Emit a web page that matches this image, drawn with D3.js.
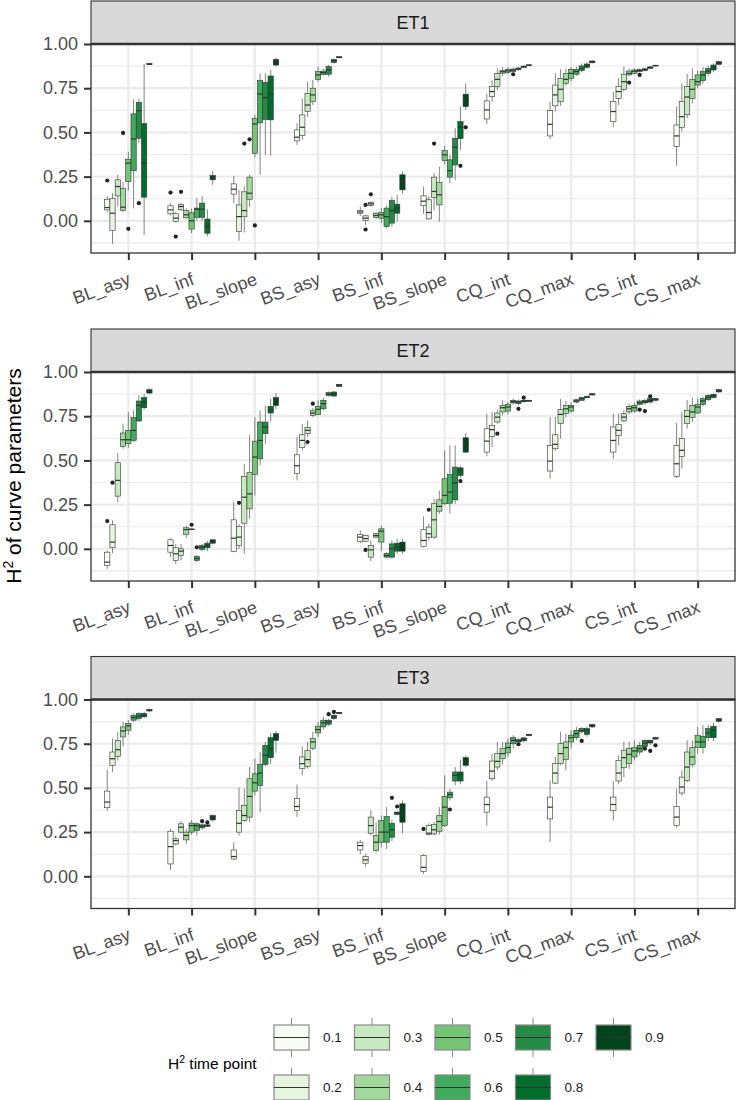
<!DOCTYPE html>
<html>
<head>
<meta charset="utf-8">
<script src="https://cdn.jsdelivr.net/npm/d3@7"></script>
<style>
  body { margin: 0; background: #fff; }
  svg { display: block; font-family: "Liberation Sans", Arial, Helvetica, sans-serif; }
</style>
</head>
<body>
<div id="chart"></div>
<script>
var categories = ["BL_asy", "BL_inf", "BL_slope", "BS_asy", "BS_inf", "BS_slope", "CQ_int", "CQ_max", "CS_int", "CS_max"];
var timePoints = ["0.1", "0.2", "0.3", "0.4", "0.5", "0.6", "0.7", "0.8", "0.9"];
var facets = ["ET1", "ET2", "ET3"];
var yTicks = [0, 0.25, 0.5, 0.75, 1];
var yMinor = [-0.125, 0.125, 0.375, 0.625, 0.875];

// one row per category, one box per time point: [lower whisker, q1, median, q3, upper whisker]
var et1Boxes = [
  [[0.05,0.062,0.075,0.122,0.14],[-0.13,-0.055,0.043,0.126,0.156],[0.08,0.141,0.194,0.232,0.26],[0.05,0.058,0.077,0.183,0.22],[0.17,0.222,0.326,0.348,0.39],[0.07,0.283,0.463,0.605,0.687],[0.44,0.467,0.623,0.67,0.69],[-0.08,0.134,0.326,0.55,0.887],[0.882,0.883,0.886,0.89,0.892]],
  [[0.03,0.04,0.062,0.085,0.10],[-0.01,-0.004,0.015,0.04,0.05],[0.055,0.062,0.081,0.094,0.10],[0.01,0.017,0.034,0.058,0.07],[-0.07,-0.047,0.0,0.045,0.07],[0.0,0.02,0.066,0.072,0.128],[0.0,0.02,0.066,0.10,0.14],[-0.088,-0.07,-0.032,0.01,0.066],[0.204,0.232,0.245,0.256,0.282]],
  [[0.10,0.151,0.179,0.209,0.254],[-0.113,-0.06,0.024,0.09,0.175],[-0.066,0.023,0.058,0.164,0.194],[0.08,0.122,0.156,0.247,0.26],[0.36,0.382,0.548,0.578,0.60],[0.26,0.554,0.718,0.793,0.834],[0.373,0.574,0.697,0.783,0.834],[0.368,0.571,0.718,0.819,0.853],[0.873,0.881,0.9,0.913,0.924]],
  [[0.429,0.452,0.473,0.514,0.552],[0.458,0.482,0.529,0.599,0.693],[0.589,0.618,0.655,0.721,0.787],[0.655,0.674,0.712,0.75,0.797],[0.787,0.80,0.825,0.844,0.872],[0.82,0.829,0.838,0.847,0.86],[0.815,0.829,0.853,0.872,0.881],[0.89,0.896,0.904,0.913,0.918],[0.92,0.922,0.925,0.928,0.93]],
  [[0.028,0.043,0.05,0.058,0.081],[-0.023,0.002,0.015,0.028,0.035],[0.08,0.087,0.096,0.105,0.11],[0.01,0.02,0.03,0.043,0.05],[-0.013,0.015,0.034,0.047,0.072],[-0.043,-0.032,0.024,0.072,0.087],[-0.032,-0.013,0.058,0.115,0.137],[-0.004,0.043,0.072,0.094,0.147],[0.153,0.175,0.232,0.26,0.279]],
  [[0.04,0.085,0.111,0.141,0.194],[0.006,0.011,0.047,0.119,0.138],[0.06,0.132,0.166,0.247,0.27],[-0.004,0.09,0.147,0.218,0.307],[0.32,0.341,0.373,0.397,0.424],[0.213,0.247,0.284,0.345,0.373],[0.23,0.316,0.416,0.467,0.523],[0.40,0.465,0.529,0.561,0.646],[0.627,0.646,0.684,0.716,0.777]],
  [[0.546,0.576,0.627,0.678,0.72],[0.674,0.702,0.731,0.759,0.795],[0.739,0.759,0.80,0.834,0.862],[0.82,0.835,0.843,0.85,0.87],[0.83,0.84,0.848,0.856,0.87],[0.838,0.845,0.852,0.858,0.868],[0.848,0.855,0.86,0.864,0.872],[0.864,0.868,0.872,0.875,0.879],[0.875,0.878,0.88,0.882,0.884]],
  [[0.463,0.48,0.546,0.623,0.674],[0.618,0.65,0.712,0.768,0.834],[0.65,0.674,0.744,0.806,0.857],[0.765,0.778,0.80,0.834,0.86],[0.79,0.806,0.834,0.857,0.87],[0.82,0.829,0.844,0.857,0.872],[0.84,0.849,0.862,0.876,0.89],[0.86,0.868,0.879,0.887,0.896],[0.89,0.894,0.898,0.904,0.908]],
  [[0.531,0.561,0.618,0.674,0.731],[0.655,0.693,0.731,0.759,0.806],[0.731,0.744,0.787,0.829,0.872],[0.82,0.825,0.834,0.847,0.86],[0.828,0.834,0.846,0.853,0.862],[0.84,0.845,0.85,0.855,0.862],[0.845,0.85,0.855,0.86,0.866],[0.858,0.862,0.868,0.87,0.874],[0.873,0.876,0.878,0.88,0.882]],
  [[0.311,0.42,0.48,0.542,0.646],[0.506,0.529,0.589,0.674,0.777],[0.58,0.60,0.70,0.76,0.83],[0.665,0.693,0.744,0.80,0.862],[0.75,0.768,0.787,0.825,0.85],[0.775,0.793,0.825,0.844,0.87],[0.82,0.834,0.847,0.862,0.878],[0.84,0.853,0.866,0.881,0.89],[0.88,0.885,0.894,0.90,0.905]]
];
// [category index, time point index, value]
var et1Outliers = [[0,0,0.228],[0,3,0.497],[0,4,-0.045],[0,6,0.10],[1,0,0.16],[1,1,-0.089],[1,2,0.164],[2,2,0.437],[2,3,0.461],[2,4,-0.026],[4,1,0.09],[4,1,-0.049],[4,2,0.15],[5,2,0.437],[5,7,0.311],[5,8,0.529],[6,5,0.829],[8,3,0.782],[8,5,0.825]];

var et2Boxes = [
  [[-0.113,-0.094,-0.075,-0.019,-0.009],[-0.025,0.006,0.038,0.136,0.160],[0.264,0.298,0.387,0.487,0.542],[0.566,0.579,0.617,0.655,0.708],[0.57,0.594,0.617,0.67,0.774],[0.604,0.613,0.67,0.742,0.783],[0.717,0.723,0.811,0.836,0.868],[0.787,0.798,0.83,0.855,0.877],[0.875,0.881,0.89,0.90,0.908]],
  [[-0.047,-0.019,0.019,0.051,0.06],[-0.085,-0.066,-0.028,0.006,0.028],[-0.066,-0.038,-0.013,0.0,0.028],[0.062,0.081,0.109,0.119,0.132],[0.106,0.108,0.11,0.112,0.115],[-0.075,-0.066,-0.055,-0.043,-0.035],[-0.013,-0.004,0.009,0.019,0.028],[-0.013,0.006,0.021,0.032,0.045],[0.025,0.032,0.041,0.051,0.055]],
  [[-0.019,-0.015,0.06,0.164,0.264],[0.0,0.019,0.066,0.126,0.14],[-0.028,0.145,0.292,0.409,0.481],[0.170,0.226,0.311,0.432,0.642],[0.302,0.421,0.519,0.609,0.745],[0.472,0.509,0.613,0.717,0.783],[0.594,0.651,0.689,0.717,0.811],[0.72,0.768,0.787,0.806,0.849],[0.79,0.811,0.843,0.855,0.881]],
  [[0.387,0.425,0.47,0.532,0.634],[0.557,0.572,0.613,0.645,0.706],[0.632,0.651,0.67,0.685,0.726],[0.745,0.755,0.768,0.783,0.798],[0.755,0.76,0.789,0.806,0.840],[0.783,0.792,0.821,0.84,0.855],[0.86,0.868,0.874,0.883,0.89],[0.86,0.864,0.877,0.887,0.892],[0.915,0.919,0.925,0.93,0.933]],
  [[0.032,0.043,0.066,0.081,0.104],[0.038,0.043,0.058,0.075,0.08],[-0.07,-0.047,-0.006,0.019,0.047],[0.06,0.066,0.075,0.085,0.09],[-0.013,0.038,0.10,0.113,0.132],[-0.055,-0.047,-0.038,-0.025,-0.02],[-0.057,-0.047,0.0,0.028,0.047],[-0.028,-0.013,0.009,0.032,0.057],[-0.028,-0.013,0.009,0.038,0.055]],
  [[0.009,0.013,0.047,0.108,0.183],[0.047,0.066,0.085,0.123,0.142],[0.057,0.066,0.164,0.255,0.283],[0.198,0.213,0.24,0.277,0.33],[0.245,0.255,0.302,0.396,0.557],[0.198,0.258,0.321,0.421,0.585],[0.255,0.277,0.372,0.462,0.585],[0.40,0.415,0.447,0.458,0.47],[0.542,0.547,0.594,0.628,0.654]],
  [[0.523,0.547,0.609,0.679,0.764],[0.575,0.636,0.674,0.698,0.774],[0.708,0.717,0.745,0.768,0.787],[0.755,0.774,0.798,0.811,0.84],[0.76,0.779,0.802,0.817,0.83],[0.815,0.825,0.832,0.84,0.85],[0.81,0.821,0.83,0.836,0.845],[0.826,0.832,0.836,0.84,0.845],[0.83,0.835,0.838,0.84,0.843]],
  [[0.396,0.44,0.496,0.585,0.745],[0.555,0.566,0.591,0.645,0.745],[0.623,0.708,0.76,0.787,0.849],[0.745,0.764,0.792,0.811,0.836],[0.77,0.779,0.802,0.811,0.83],[0.823,0.83,0.836,0.843,0.848],[0.835,0.84,0.849,0.855,0.86],[0.852,0.855,0.857,0.862,0.866],[0.866,0.87,0.874,0.877,0.88]],
  [[0.509,0.547,0.613,0.689,0.764],[0.585,0.642,0.67,0.704,0.764],[0.715,0.723,0.745,0.764,0.783],[0.76,0.774,0.792,0.806,0.82],[0.77,0.779,0.798,0.811,0.825],[0.81,0.817,0.826,0.836,0.845],[0.815,0.825,0.832,0.84,0.85],[0.822,0.83,0.838,0.849,0.85],[0.835,0.84,0.845,0.849,0.852]],
  [[0.40,0.409,0.481,0.585,0.711],[0.453,0.523,0.557,0.623,0.774],[0.679,0.708,0.749,0.783,0.84],[0.717,0.742,0.774,0.811,0.855],[0.764,0.768,0.802,0.817,0.849],[0.805,0.817,0.836,0.849,0.86],[0.835,0.843,0.857,0.868,0.875],[0.85,0.855,0.866,0.874,0.88],[0.884,0.887,0.894,0.90,0.905]]
];
var et2Outliers = [[0,0,0.157],[0,1,0.374],[1,4,0.136],[1,5,0.009],[2,1,0.26],[3,2,0.604],[3,3,0.821],[4,1,-0.006],[5,1,0.221],[5,7,0.383],[6,2,0.651],[6,6,0.792],[6,7,0.855],[8,5,0.787],[8,6,0.779],[8,7,0.862]];

var et3Boxes = [
  [[0.37,0.388,0.42,0.482,0.603],[0.590,0.628,0.665,0.703,0.779],[0.656,0.679,0.716,0.769,0.816],[0.735,0.788,0.822,0.845,0.873],[0.80,0.826,0.851,0.864,0.883],[0.873,0.883,0.898,0.911,0.92],[0.88,0.892,0.905,0.921,0.928],[0.895,0.902,0.911,0.921,0.93],[0.93,0.935,0.939,0.943,0.947]],
  [[0.036,0.07,0.168,0.255,0.268],[0.174,0.183,0.202,0.212,0.225],[0.241,0.25,0.278,0.297,0.312],[0.183,0.206,0.231,0.25,0.268],[0.236,0.25,0.287,0.301,0.318],[0.23,0.259,0.287,0.297,0.306],[0.265,0.274,0.284,0.291,0.30],[0.28,0.283,0.287,0.291,0.295],[0.31,0.319,0.335,0.344,0.35]],
  [[0.092,0.098,0.112,0.149,0.193],[0.231,0.25,0.30,0.372,0.502],[0.306,0.316,0.344,0.401,0.495],[0.306,0.335,0.452,0.552,0.618],[0.457,0.482,0.529,0.58,0.665],[0.362,0.514,0.584,0.633,0.703],[0.622,0.633,0.684,0.741,0.76],[0.636,0.671,0.722,0.784,0.811],[0.70,0.769,0.788,0.807,0.822]],
  [[0.335,0.372,0.395,0.439,0.519],[0.571,0.609,0.637,0.675,0.736],[0.609,0.622,0.66,0.713,0.76],[0.713,0.722,0.76,0.779,0.817],[0.788,0.811,0.83,0.849,0.873],[0.83,0.845,0.868,0.883,0.901],[0.85,0.86,0.873,0.883,0.89],[0.885,0.892,0.902,0.911,0.918],[0.918,0.921,0.924,0.926,0.928]],
  [[0.126,0.149,0.174,0.193,0.206],[0.055,0.074,0.093,0.112,0.127],[0.231,0.244,0.287,0.335,0.373],[0.136,0.146,0.193,0.231,0.306],[0.164,0.193,0.25,0.316,0.344],[0.155,0.193,0.25,0.338,0.391],[0.20,0.221,0.263,0.30,0.32],[0.345,0.35,0.357,0.363,0.37],[0.244,0.306,0.357,0.41,0.429]],
  [[0.013,0.028,0.051,0.117,0.125],[0.23,0.236,0.244,0.287,0.30],[0.231,0.24,0.263,0.293,0.306],[0.236,0.255,0.31,0.344,0.391],[0.278,0.287,0.391,0.452,0.571],[0.43,0.444,0.463,0.476,0.495],[0.515,0.539,0.571,0.59,0.618],[0.52,0.539,0.577,0.59,0.66],[0.618,0.628,0.656,0.671,0.684]],
  [[0.287,0.363,0.406,0.448,0.539],[0.539,0.552,0.595,0.652,0.694],[0.599,0.618,0.65,0.694,0.76],[0.633,0.665,0.694,0.722,0.76],[0.675,0.698,0.728,0.754,0.779],[0.722,0.75,0.769,0.784,0.798],[0.755,0.76,0.766,0.773,0.78],[0.76,0.766,0.775,0.783,0.788],[0.792,0.796,0.80,0.803,0.806]],
  [[0.193,0.325,0.391,0.448,0.542],[0.52,0.527,0.584,0.637,0.675],[0.628,0.637,0.694,0.75,0.817],[0.6,0.66,0.728,0.76,0.807],[0.722,0.76,0.784,0.798,0.826],[0.77,0.784,0.807,0.826,0.845],[0.81,0.817,0.826,0.836,0.845],[0.79,0.803,0.826,0.836,0.845],[0.84,0.845,0.852,0.858,0.864]],
  [[0.315,0.372,0.406,0.448,0.539],[0.52,0.539,0.584,0.656,0.684],[0.561,0.614,0.671,0.713,0.76],[0.608,0.637,0.69,0.722,0.76],[0.656,0.675,0.709,0.728,0.769],[0.685,0.703,0.722,0.741,0.76],[0.728,0.735,0.754,0.769,0.775],[0.745,0.754,0.76,0.769,0.775],[0.772,0.776,0.78,0.785,0.79]],
  [[0.276,0.287,0.335,0.395,0.495],[0.457,0.471,0.505,0.561,0.599],[0.532,0.543,0.618,0.703,0.769],[0.618,0.633,0.675,0.728,0.769],[0.694,0.728,0.76,0.798,0.845],[0.694,0.728,0.76,0.792,0.855],[0.765,0.784,0.811,0.836,0.855],[0.765,0.784,0.826,0.849,0.868],[0.87,0.877,0.885,0.892,0.897]]
];
var et3Outliers = [[1,6,0.312],[1,7,0.305],[3,6,0.917],[3,7,0.93],[4,6,0.444],[4,7,0.395],[5,0,0.268],[5,5,0.378],[6,6,0.747],[7,6,0.766],[8,6,0.722],[8,7,0.709],[8,8,0.741]];

var facetBoxes = [et1Boxes, et2Boxes, et3Boxes];
var facetOutliers = [et1Outliers, et2Outliers, et3Outliers];

var WIDTH = 738, HEIGHT = 1100;
var PANEL = { left: 91, right: 735, height: 209, strip: 43 };
var panelTops = [44, 372, 699.5];
var INK = "#333333";

var svg = d3.select("#chart").append("svg").attr("width", WIDTH).attr("height", HEIGHT);

var xScale = d3.scalePoint().domain(categories).range([PANEL.left, PANEL.right]).padding(0.59);
var step = xScale.step();
var dodge = d3.scaleBand().domain(timePoints).range([-step * 0.375, step * 0.375]);
var bw = dodge.bandwidth();
var fill = d3.scaleOrdinal().domain(timePoints).range(d3.schemeGreens[9]);

facets.forEach(function(name, fi) {
  var top = panelTops[fi], bottom = top + PANEL.height;
  var yScale = d3.scaleLinear().domain([-0.182, 1]).range([bottom, top]);
  var g = svg.append("g").attr("class", "facet");

  // grid
  g.selectAll(".minor").data(yMinor).enter().append("line")
    .attr("x1", PANEL.left).attr("x2", PANEL.right)
    .attr("y1", function(d) { return yScale(d); }).attr("y2", function(d) { return yScale(d); })
    .attr("stroke", "#ebebeb").attr("stroke-width", 1.1);
  g.selectAll(".majorY").data(yTicks).enter().append("line")
    .attr("x1", PANEL.left).attr("x2", PANEL.right)
    .attr("y1", function(d) { return yScale(d); }).attr("y2", function(d) { return yScale(d); })
    .attr("stroke", "#ebebeb").attr("stroke-width", 2.2);
  g.selectAll(".majorX").data(categories).enter().append("line")
    .attr("x1", function(d) { return xScale(d); }).attr("x2", function(d) { return xScale(d); })
    .attr("y1", top).attr("y2", bottom)
    .attr("stroke", "#ebebeb").attr("stroke-width", 2.2);

  // boxes
  var rows = [];
  facetBoxes[fi].forEach(function(row, c) {
    row.forEach(function(b, k) {
      rows.push({ cat: categories[c], tp: timePoints[k], lo: b[0], q1: b[1], med: b[2], q3: b[3], hi: b[4] });
    });
  });
  var box = g.selectAll(".box").data(rows).enter().append("g").attr("class", "box")
    .attr("transform", function(d) { return "translate(" + (xScale(d.cat) + dodge(d.tp)) + ",0)"; });
  box.append("line").attr("x1", bw / 2).attr("x2", bw / 2)
    .attr("y1", function(d) { return yScale(d.hi); }).attr("y2", function(d) { return yScale(d.q3); })
    .attr("stroke", INK).attr("stroke-width", 0.6);
  box.append("line").attr("x1", bw / 2).attr("x2", bw / 2)
    .attr("y1", function(d) { return yScale(d.q1); }).attr("y2", function(d) { return yScale(d.lo); })
    .attr("stroke", INK).attr("stroke-width", 0.6);
  box.append("rect").attr("x", 0).attr("width", bw)
    .attr("y", function(d) { return yScale(d.q3); })
    .attr("height", function(d) { return Math.max(0.5, yScale(d.q1) - yScale(d.q3)); })
    .attr("fill", function(d) { return fill(d.tp); })
    .attr("stroke", INK).attr("stroke-width", 0.6);
  box.append("line").attr("x1", 0).attr("x2", bw)
    .attr("y1", function(d) { return yScale(d.med); }).attr("y2", function(d) { return yScale(d.med); })
    .attr("stroke", INK).attr("stroke-width", 1.2);

  g.selectAll(".outlier").data(facetOutliers[fi]).enter().append("circle")
    .attr("cx", function(d) { return xScale(categories[d[0]]) + dodge(timePoints[d[1]]) + bw / 2; })
    .attr("cy", function(d) { return yScale(d[2]); })
    .attr("r", 2.1).attr("fill", "#222");

  // panel border
  g.append("rect").attr("x", PANEL.left).attr("y", top)
    .attr("width", PANEL.right - PANEL.left).attr("height", PANEL.height)
    .attr("fill", "none").attr("stroke", INK).attr("stroke-width", 1.3);

  // strip
  g.append("rect").attr("x", PANEL.left).attr("y", top - PANEL.strip)
    .attr("width", PANEL.right - PANEL.left).attr("height", PANEL.strip)
    .attr("fill", "#d9d9d9").attr("stroke", INK).attr("stroke-width", 1.1);
  g.append("line").attr("x1", PANEL.left).attr("x2", PANEL.right)
    .attr("y1", top).attr("y2", top).attr("stroke", INK).attr("stroke-width", 2.6);
  g.append("text").attr("x", (PANEL.left + PANEL.right) / 2).attr("y", top - PANEL.strip / 2)
    .attr("dy", "0.36em").attr("text-anchor", "middle")
    .attr("font-size", 18).attr("fill", "#1a1a1a").text(name);

  // axes
  var yAxis = d3.axisLeft(yScale).tickValues(yTicks).tickFormat(d3.format(".2f")).tickSize(7).tickPadding(6);
  var gY = g.append("g").attr("transform", "translate(" + PANEL.left + ",0)").call(yAxis);
  var xAxis = d3.axisBottom(xScale).tickSize(7).tickPadding(6);
  var gX = g.append("g").attr("transform", "translate(0," + bottom + ")").call(xAxis);
  [gY, gX].forEach(function(ax) {
    ax.select(".domain").remove();
    ax.selectAll(".tick line").attr("stroke", INK).attr("stroke-width", 2);
    ax.selectAll(".tick text").attr("fill", "#4d4d4d").attr("font-size", 18)
      .attr("font-family", "'Liberation Sans', Arial, Helvetica, sans-serif");
  });
  gX.selectAll(".tick text").attr("x", 0).attr("y", 0).attr("dy", 0)
    .attr("transform", "translate(3,31) rotate(-20)").style("text-anchor", "end");
});

// y axis title
var yTitle = svg.append("text").attr("transform", "translate(21,476) rotate(-90)")
  .attr("text-anchor", "middle").attr("font-size", 21).attr("fill", "#000");
yTitle.append("tspan").text("H");
yTitle.append("tspan").attr("dy", -8).attr("font-size", 14).text("2");
yTitle.append("tspan").attr("dy", 8).text(" of curve parameters");

// legend
var legend = svg.append("g").attr("class", "legend");
var legTitle = legend.append("text").attr("x", 168).attr("y", 1069).attr("font-size", 15.5).attr("fill", "#000");
legTitle.append("tspan").text("H");
legTitle.append("tspan").attr("dy", -6).attr("font-size", 10.5).text("2");
legTitle.append("tspan").attr("dy", 6).text(" time point");

var keyW = 35, keyH = 25, colGap = 80.5, rowGap = 50;
var key = legend.selectAll(".key").data(timePoints).enter().append("g").attr("class", "key")
  .attr("transform", function(d, i) {
    return "translate(" + (274 + Math.floor(i / 2) * colGap) + "," + (1025 + (i % 2) * rowGap) + ")";
  });
key.append("line").attr("x1", keyW / 2).attr("x2", keyW / 2).attr("y1", -7).attr("y2", keyH + 7)
  .attr("stroke", "#8a8a8a").attr("stroke-width", 1);
key.append("rect").attr("width", keyW).attr("height", keyH)
  .attr("fill", function(d) { return fill(d); }).attr("stroke", "#8a8a8a").attr("stroke-width", 1.2);
key.append("line").attr("x1", 0).attr("x2", keyW).attr("y1", keyH / 2).attr("y2", keyH / 2)
  .attr("stroke", "#333").attr("stroke-width", 1.2);
key.append("text").attr("x", keyW + 14).attr("y", keyH / 2).attr("dy", "0.36em")
  .attr("font-size", 13.5).attr("fill", "#1a1a1a").text(function(d) { return d; });
</script>
</body>
</html>
